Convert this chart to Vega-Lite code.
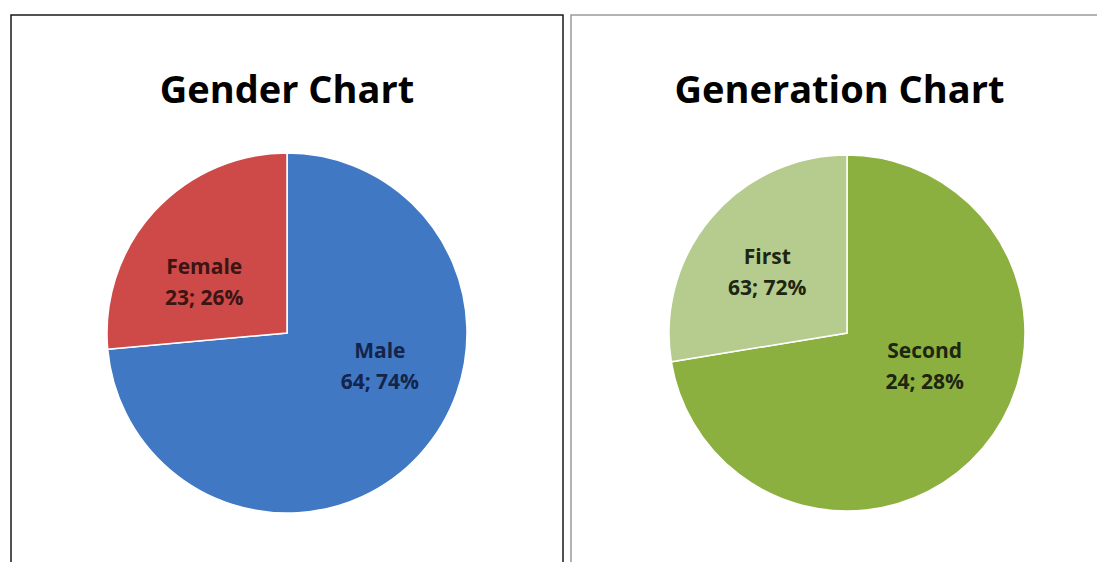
{
  "$schema": "https://vega.github.io/schema/vega-lite/v6.json",
  "padding": {"left": 10, "top": 14, "right": 0, "bottom": 0},
  "background": "white",
  "config": {"concat": {"spacing": 6}},
  "resolve": {"scale": {"color": "independent", "theta": "independent"}},
  "datasets": {
    "gender": [
      {"name": "Male", "count": 64, "label": "Male\n64; 74%"},
      {"name": "Female", "count": 23, "label": "Female\n23; 26%"}
    ],
    "generation": [
      {"name": "Second", "count": 63, "label": "Second\n24; 28%"},
      {"name": "First", "count": 24, "label": "First\n63; 72%"}
    ]
  },
  "hconcat": [
    {
      "width": 552,
      "height": 548,
      "view": {"stroke": "#1a1a1a", "strokeWidth": 1.5},
      "title": {"text": "Gender Chart", "offset": -126, "baseline": "alphabetic", "font": "Open Sans", "fontSize": 38, "fontWeight": "bold", "color": "#000000", "anchor": "middle"},
      "data": {"name": "gender"},
      "encoding": {
        "theta": {"field": "count", "type": "quantitative", "stack": true},
        "order": {"field": "name", "sort": "descending"},
        "x": {"value": 276},
        "y": {"value": 318}
      },
      "layer": [
        {
          "mark": {"type": "arc", "outerRadius": 180, "stroke": "#ffffff", "strokeWidth": 1.5},
          "encoding": {
            "color": {"field": "name", "type": "nominal", "legend": null, "scale": {"domain": ["Male", "Female"], "range": ["#4078c4", "#cd4a48"]}}
          }
        },
        {
          "mark": {"type": "text", "radius": 100, "font": "Open Sans", "fontSize": 21, "fontWeight": "bold", "lineBreak": "\n", "lineHeight": 31, "color": "#3d1414", "dx": -9, "dy": 2},
          "encoding": {"text": {"condition": {"test": "datum.name === 'Female'", "field": "label"}, "value": ""}}
        },
        {
          "mark": {"type": "text", "radius": 100, "font": "Open Sans", "fontSize": 21, "fontWeight": "bold", "lineBreak": "\n", "lineHeight": 31, "color": "#14244a", "dx": 19, "dy": -48},
          "encoding": {"text": {"condition": {"test": "datum.name === 'Male'", "field": "label"}, "value": ""}}
        }
      ]
    },
    {
      "width": 529,
      "height": 548,
      "view": {"stroke": "#9a9a9a", "strokeWidth": 1.5},
      "title": {"text": "Generation Chart", "offset": -126, "baseline": "alphabetic", "font": "Open Sans", "fontSize": 38, "fontWeight": "bold", "color": "#000000", "anchor": "middle", "dx": 4},
      "data": {"name": "generation"},
      "encoding": {
        "theta": {"field": "count", "type": "quantitative", "stack": true},
        "order": {"field": "name", "sort": "descending"},
        "x": {"value": 276},
        "y": {"value": 318}
      },
      "layer": [
        {
          "mark": {"type": "arc", "outerRadius": 178, "stroke": "#ffffff", "strokeWidth": 1.5},
          "encoding": {
            "color": {"field": "name", "type": "nominal", "legend": null, "scale": {"domain": ["Second", "First"], "range": ["#8cb03f", "#b5cc8e"]}}
          }
        },
        {
          "mark": {"type": "text", "radius": 98, "font": "Open Sans", "fontSize": 21, "fontWeight": "bold", "lineBreak": "\n", "lineHeight": 31, "color": "#1c2610", "dx": -5, "dy": -12},
          "encoding": {"text": {"condition": {"test": "datum.name === 'First'", "field": "label"}, "value": ""}}
        },
        {
          "mark": {"type": "text", "radius": 98, "font": "Open Sans", "fontSize": 21, "fontWeight": "bold", "lineBreak": "\n", "lineHeight": 31, "color": "#1c2610", "dx": 3, "dy": -44},
          "encoding": {"text": {"condition": {"test": "datum.name === 'Second'", "field": "label"}, "value": ""}}
        }
      ]
    }
  ]
}
